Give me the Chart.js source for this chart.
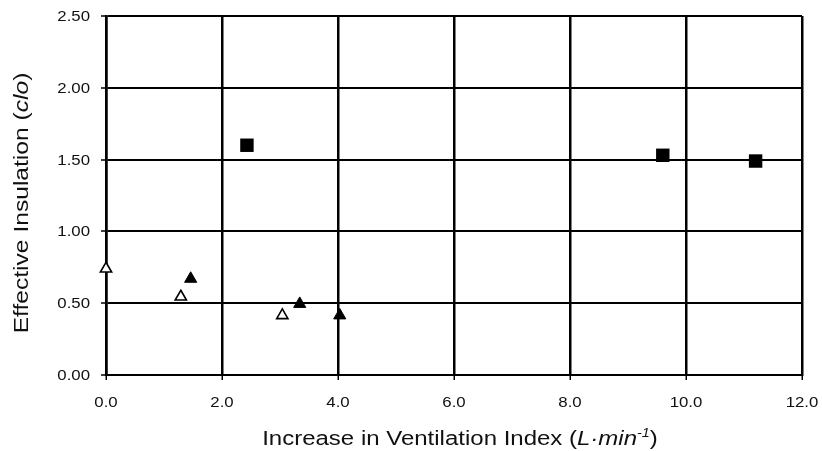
<!DOCTYPE html>
<html>
<head>
<meta charset="utf-8">
<script src="https://cdn.jsdelivr.net/npm/chart.js@4/dist/chart.umd.min.js"></script>
<style>
  html, body { margin: 0; padding: 0; background: #fff; }
  #wrap { width: 822px; height: 451px; }
</style>
</head>
<body>
<div id="wrap"><canvas id="chart"></canvas></div>
<script>
// ── Data ────────────────────────────────────
const openTriX = [0.0, 1.29, 3.04];
const openTriY = [0.74, 0.545, 0.415];
const filledTriX = [1.46, 3.34, 4.03];
const filledTriY = [0.67, 0.495, 0.415];
const squareX = [2.43, 9.6, 11.2];
const squareY = [1.60, 1.53, 1.49];

const X_TICKS = [0, 2, 4, 6, 8, 10, 12];
const Y_TICKS = [0, 0.5, 1, 1.5, 2, 2.5];

const FONT = '"Liberation Sans", Arial, sans-serif';
const STRETCH = 1.2;   // the scanned figure's lettering is wider than plain Arial

function toPoints(xs, ys) {
    return xs.map((x, i) => ({ x, y: ys[i] }));
}

// Draw a line of text made of runs (italic / superscript), horizontally stretched.
// align: 'center' or 'right' relative to the current origin; baseline alphabetic at y=0
function drawRuns(ctx, runs, size, align) {
    const fontOf = r => `${r.italic ? 'italic ' : ''}${r.sup ? Math.round(size * 0.62) : size}px ${FONT}`;
    let total = 0;
    runs.forEach(r => {
        ctx.font = fontOf(r);
        r.w = ctx.measureText(r.text).width;
        total += r.w;
    });
    ctx.save();
    ctx.scale(STRETCH, 1);
    let x = align === 'right' ? -total : -total / 2;
    runs.forEach(r => {
        ctx.font = fontOf(r);
        ctx.fillText(r.text, x, r.sup ? -size * 0.38 : 0);
        x += r.w;
    });
    ctx.restore();
}

const scanText = {
    id: 'scanText',
    afterDraw(chart) {
        const { ctx } = chart;
        const xs = chart.scales.x, ys = chart.scales.y;
        ctx.save();
        ctx.fillStyle = '#111';
        ctx.textAlign = 'left';
        ctx.textBaseline = 'alphabetic';

        // tick labels
        X_TICKS.forEach(v => {
            ctx.save();
            ctx.translate(xs.getPixelForValue(v), 407);
            drawRuns(ctx, [{ text: v.toFixed(1) }], 14, 'center');
            ctx.restore();
        });
        Y_TICKS.forEach(v => {
            ctx.save();
            ctx.translate(90, ys.getPixelForValue(v) + 5);
            drawRuns(ctx, [{ text: v.toFixed(2) }], 14, 'right');
            ctx.restore();
        });

        // x title
        ctx.save();
        ctx.translate(460, 445);
        drawRuns(ctx, [
            { text: 'Increase in Ventilation Index (' },
            { text: 'L·min', italic: true },
            { text: '-1', italic: true, sup: true },
            { text: ')' },
        ], 20);
        ctx.restore();

        // y title
        ctx.save();
        ctx.translate(28, 203);
        ctx.rotate(-Math.PI / 2);
        drawRuns(ctx, [
            { text: 'Effective Insulation (' },
            { text: 'clo', italic: true },
            { text: ')' },
        ], 20.5, 'center');
        ctx.restore();

        ctx.restore();
    },
};

const markerBase = { showLine: false, pointHoverRadius: 7, clip: false };

new Chart(document.getElementById('chart'), {
    type: 'scatter',
    data: {
        datasets: [
            {
                ...markerBase,
                label: 'Squares',
                data: toPoints(squareX, squareY),
                pointStyle: 'rect',
                pointRadius: 9.5,
                backgroundColor: '#000',
                borderColor: '#000',
                borderWidth: 0,
            },
            {
                ...markerBase,
                label: 'Filled triangles',
                data: toPoints(filledTriX, filledTriY),
                pointStyle: 'triangle',
                pointRadius: 7,
                backgroundColor: '#000',
                borderColor: '#000',
                borderWidth: 1,
            },
            {
                ...markerBase,
                label: 'Open triangles',
                data: toPoints(openTriX, openTriY),
                pointStyle: 'triangle',
                pointRadius: 6.5,
                backgroundColor: '#fff',
                borderColor: '#000',
                borderWidth: 1.6,
            },
        ],
    },
    options: {
        responsive: true,
        maintainAspectRatio: false,
        animation: false,
        layout: { padding: { left: 0, top: 16, right: 20, bottom: 0 } },
        plugins: {
            legend: { display: false },
            tooltip: { enabled: false },
        },
        scales: {
            x: {
                type: 'linear',
                min: 0,
                max: 12,
                afterFit: scale => { scale.height = 76; },
                afterBuildTicks: scale => { scale.ticks = X_TICKS.map(v => ({ value: v })); },
                ticks: { display: false },
                grid: { color: '#000', lineWidth: 2.5, tickLength: 5, tickColor: '#000', tickWidth: 1.5 },
                border: { color: '#000', width: 2 },
            },
            y: {
                min: 0,
                max: 2.5,
                afterFit: scale => { scale.width = 106; },
                afterBuildTicks: scale => { scale.ticks = Y_TICKS.map(v => ({ value: v })); },
                ticks: { display: false },
                grid: { color: '#000', lineWidth: 2, tickLength: 5, tickColor: '#000', tickWidth: 1.5 },
                border: { color: '#000', width: 2.5 },
            },
        },
    },
    plugins: [scanText],
});
</script>
</body>
</html>
